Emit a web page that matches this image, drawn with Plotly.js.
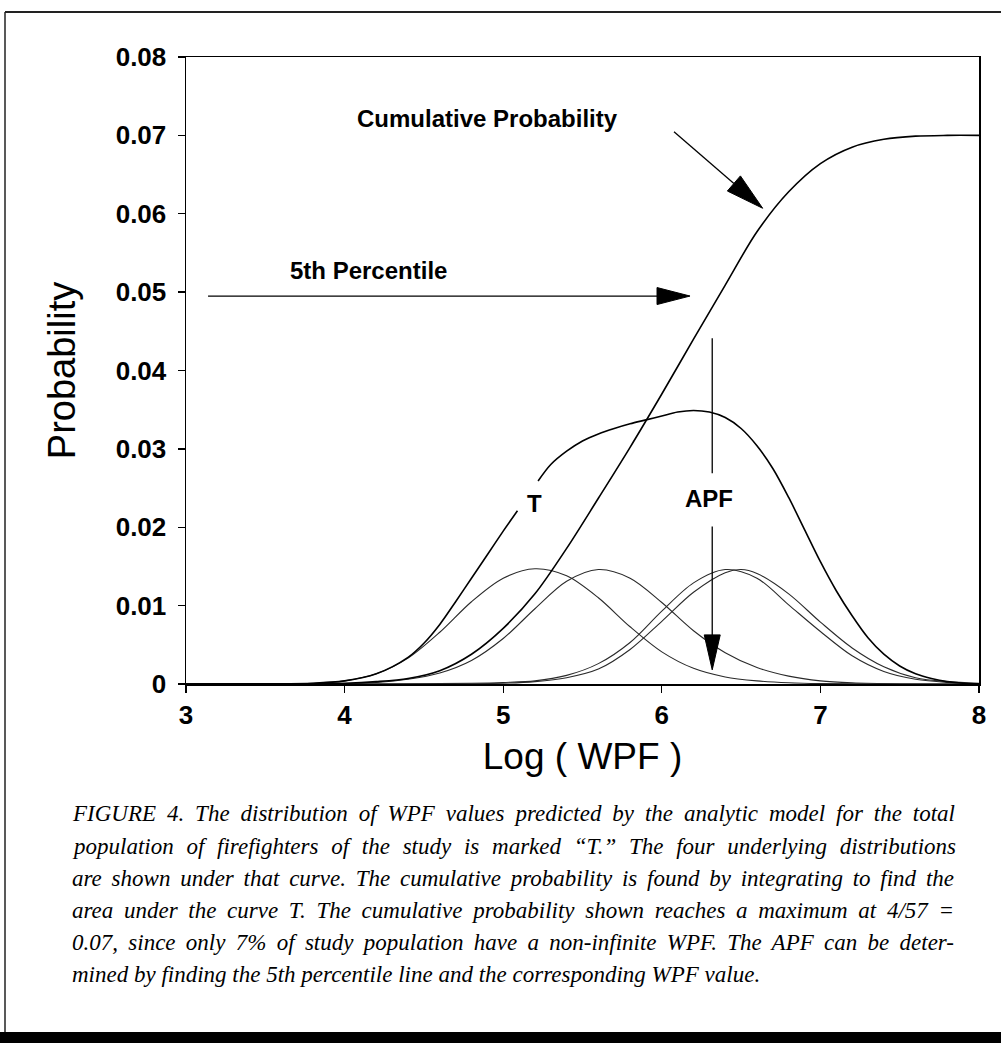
<!DOCTYPE html>
<html>
<head>
<meta charset="utf-8">
<script src="https://cdn.plot.ly/plotly-3.0.1.min.js"></script>
<style>
html,body{margin:0;padding:0;background:#fff;}
#chart{width:1001px;height:1043px;}
</style>
</head>
<body>
<div id="chart"></div>
<script>
// ---------- data ----------
const xTicks = [3, 4, 5, 6, 7, 8];
const yTicks = [0, 0.01, 0.02, 0.03, 0.04, 0.05, 0.06, 0.07, 0.08];
const yTickText = ['0', '0.01', '0.02', '0.03', '0.04', '0.05', '0.06', '0.07', '0.08'];

// four underlying distributions
const g1X = [3.0, 3.5, 3.8, 4.0, 4.2, 4.4, 4.6, 4.8, 5.0, 5.2, 5.4, 5.6, 5.8, 6.0, 6.2, 6.4, 6.6, 6.8, 7.0, 7.5, 8.0];
const g1Y = [0, 0.00002, 0.0001, 0.0004, 0.0013, 0.0033, 0.0066, 0.0105, 0.0135, 0.0147, 0.0138, 0.0110, 0.0073, 0.0041, 0.0020, 0.0009, 0.0004, 0.00015, 0.00005, 0, 0];

const g2X = [3.0, 3.5, 4.0, 4.2, 4.4, 4.6, 4.8, 5.0, 5.2, 5.4, 5.6, 5.8, 6.0, 6.2, 6.4, 6.6, 6.8, 7.0, 7.2, 7.5, 8.0];
const g2Y = [0, 0, 0.00005, 0.0002, 0.0006, 0.0014, 0.0030, 0.0058, 0.0096, 0.0131, 0.0146, 0.0135, 0.0104, 0.0068, 0.0040, 0.0021, 0.0010, 0.0004, 0.00015, 0.00003, 0];

const g3X = [3.0, 4.0, 4.5, 4.8, 5.0, 5.2, 5.4, 5.6, 5.8, 6.0, 6.2, 6.4, 6.6, 6.8, 7.0, 7.2, 7.4, 7.6, 7.8, 8.0];
const g3Y = [0, 0, 0.00003, 0.0001, 0.0002, 0.0004, 0.0011, 0.0026, 0.0053, 0.0093, 0.0129, 0.0146, 0.0135, 0.0101, 0.0067, 0.0036, 0.0016, 0.0006, 0.0002, 0.00005];

const g4X = [3.0, 4.0, 4.5, 5.0, 5.2, 5.4, 5.6, 5.8, 6.0, 6.2, 6.4, 6.5, 6.6, 6.8, 7.0, 7.2, 7.4, 7.6, 7.8, 8.0];
const g4Y = [0, 0, 0.00002, 0.0001, 0.0003, 0.0008, 0.0019, 0.0044, 0.0080, 0.0117, 0.0142, 0.0146, 0.0141, 0.0115, 0.0079, 0.0046, 0.0022, 0.0008, 0.0003, 0.0001];

// total distribution "T" (gap where the label sits)
const tX = [3.0, 3.5, 3.8, 4.0, 4.2, 4.4, 4.5, 4.6, 4.7, 4.8, 4.9, 5.0, 5.09, 5.15, 5.22, 5.3, 5.4, 5.5, 5.6, 5.7, 5.8, 5.9, 6.0, 6.1, 6.2, 6.3, 6.4, 6.5, 6.6, 6.7, 6.8, 6.9, 7.0, 7.1, 7.2, 7.3, 7.4, 7.5, 7.6, 7.7, 7.8, 7.9, 8.0];
const tY = [0, 0.00003, 0.0001, 0.0004, 0.0013, 0.0034, 0.0052, 0.0076, 0.0105, 0.0135, 0.0165, 0.0195, 0.0221, null, 0.0259, 0.0280, 0.0297, 0.0310, 0.0319, 0.0326, 0.0332, 0.0337, 0.0342, 0.0347, 0.0349, 0.0347, 0.0340, 0.0326, 0.0304, 0.0275, 0.0238, 0.0197, 0.0156, 0.0119, 0.0087, 0.0059, 0.0038, 0.0023, 0.0013, 0.0007, 0.0003, 0.0001, 0.00003];

// cumulative probability
const cumX = [3.0, 3.5, 4.0, 4.2, 4.4, 4.6, 4.8, 5.0, 5.2, 5.4, 5.6, 5.8, 6.0, 6.2, 6.4, 6.6, 6.8, 7.0, 7.2, 7.4, 7.6, 7.8, 8.0];
const cumY = [0, 0.00001, 0.0001, 0.0003, 0.0007, 0.0017, 0.0038, 0.0071, 0.0115, 0.0173, 0.0237, 0.0302, 0.0370, 0.0440, 0.0509, 0.0577, 0.0628, 0.0664, 0.0685, 0.0695, 0.0699, 0.0700, 0.0700];

// text labels inside the plot
const labelText = ['Cumulative Probability', '5th Percentile', 'T', 'APF'];
const labelX = [4.066, 3.643, 5.20, 6.30];
const labelY = [0.0722, 0.0527, 0.0230, 0.0237];

// arrows: [tailX, tailY, tipX, tipY]
const arrowCum = [6.077, 0.07045, 6.636, 0.0607];
const arrowPct = [3.139, 0.0495, 6.178, 0.0495];
const apfTopLine = [6.318, 0.0441, 6.318, 0.0269];
const arrowApf = [6.318, 0.0201, 6.318, 0.0018];

const captionLines = [
  'FIGURE 4. The distribution of WPF values predicted by the analytic model for the total',
  'population of firefighters of the study is marked \u201cT.\u201d The four underlying distributions',
  'are shown under that curve. The cumulative probability is found by integrating to find the',
  'area under the curve T. The cumulative probability shown reaches a maximum at 4/57 =',
  '0.07, since only 7% of study population have a non-infinite WPF. The APF can be deter-',
  'mined by finding the 5th percentile line and the corresponding WPF value.'
];

// ---------- geometry ----------
const W = 1001, H = 1043;
const PL = 186, PR = 979, PT = 57, PB = 684;
const kx = (8 - 3) / (PR - PL);
const ky = 0.08 / (PB - PT);
const pxX = px => (px - PL) / (PR - PL);
const pxY = py => (PB - py) / (PB - PT);

function arrowShapes(a, headLen, headW, lw) {
  const [x0, y0, x1, y1] = a;
  const dxp = (x1 - x0) / kx, dyp = (y1 - y0) / ky;
  const len = Math.hypot(dxp, dyp);
  const ux = dxp / len, uy = dyp / len;
  const bx = x1 - ux * headLen * kx, by = y1 - uy * headLen * ky;
  const nx = -uy, ny = ux;
  const c1x = bx + nx * headW / 2 * kx, c1y = by + ny * headW / 2 * ky;
  const c2x = bx - nx * headW / 2 * kx, c2y = by - ny * headW / 2 * ky;
  return [
    {type: 'line', xref: 'x', yref: 'y', x0: x0, y0: y0, x1: bx, y1: by, line: {color: '#000', width: lw}},
    {type: 'path', xref: 'x', yref: 'y', path: `M${x1},${y1} L${c1x},${c1y} L${c2x},${c2y} Z`,
     fillcolor: '#000', line: {color: '#000', width: 1}}
  ];
}

const thin = {color: '#2a2a2a', width: 1.1, shape: 'spline', smoothing: 0.9};
const bold = {color: '#000', width: 1.6, shape: 'spline', smoothing: 0.9};

const traces = [
  {x: g1X, y: g1Y, mode: 'lines', line: thin, name: 'G1'},
  {x: g2X, y: g2Y, mode: 'lines', line: thin, name: 'G2'},
  {x: g3X, y: g3Y, mode: 'lines', line: thin, name: 'G3'},
  {x: g4X, y: g4Y, mode: 'lines', line: thin, name: 'G4'},
  {x: tX, y: tY, mode: 'lines', line: bold, connectgaps: false, name: 'T'},
  {x: cumX, y: cumY, mode: 'lines', line: bold, name: 'Cumulative'}
];

const sans = 'Liberation Sans, Arial, Helvetica, sans-serif';
const serif = 'Liberation Serif, Times New Roman, serif';

const annotations = labelText.map((t, i) => ({
  text: t, x: labelX[i], y: labelY[i], xref: 'x', yref: 'y',
  xanchor: i < 2 ? 'left' : 'center', yanchor: 'middle', showarrow: false,
  font: {family: sans, size: 24, color: '#000', weight: 700}
}));

const captionY = [813, 846, 878, 910, 942, 974];
captionLines.forEach((t, i) => {
  annotations.push({
    text: t, x: pxX(70), y: pxY(captionY[i]), xref: 'paper', yref: 'paper',
    xanchor: 'left', yanchor: 'middle', align: 'left', showarrow: false,
    font: {family: serif, size: 23, color: '#000', style: 'italic'}
  });
});

const shapes = [].concat(
  arrowShapes(arrowCum, 38, 20, 1.3),
  arrowShapes(arrowPct, 33, 17, 1.3),
  [{type: 'line', xref: 'x', yref: 'y', x0: apfTopLine[0], y0: apfTopLine[1], x1: apfTopLine[2], y1: apfTopLine[3], line: {color: '#000', width: 1.3}}],
  arrowShapes(arrowApf, 35, 16, 1.3),
  [
    {type: 'line', xref: 'paper', yref: 'paper', x0: pxX(5), x1: pxX(1001), y0: pxY(12), y1: pxY(12), line: {color: '#222', width: 2}},
    {type: 'line', xref: 'paper', yref: 'paper', x0: pxX(5), x1: pxX(5), y0: pxY(12), y1: pxY(1032), line: {color: '#222', width: 1.5}},
    {type: 'rect', xref: 'paper', yref: 'paper', x0: pxX(0), x1: pxX(1001), y0: pxY(1032), y1: pxY(1043), fillcolor: '#000', line: {width: 0}}
  ]
);

const layout = {
  width: W, height: H,
  margin: {l: PL, r: W - PR, t: PT, b: H - PB},
  paper_bgcolor: '#fff', plot_bgcolor: '#fff',
  showlegend: false,
  xaxis: {
    range: [3, 8], tickvals: xTicks, ticktext: xTicks.map(String),
    ticks: 'outside', ticklen: 7, tickwidth: 1.3, tickcolor: '#000',
    showline: true, linecolor: '#000', linewidth: 1.5, mirror: true,
    showgrid: false, zeroline: false, automargin: false,
    tickfont: {family: sans, size: 26, color: '#000', weight: 700},
    title: {text: 'Log ( WPF )', font: {family: sans, size: 37, color: '#000'}, standoff: 14}
  },
  yaxis: {
    range: [0, 0.08], tickvals: yTicks, ticktext: yTickText,
    ticks: 'outside', ticklen: 7, tickwidth: 1.3, tickcolor: '#000',
    showline: true, linecolor: '#000', linewidth: 1.5, mirror: true,
    showgrid: false, zeroline: false, automargin: false,
    ticklabelstandoff: 6,
    tickfont: {family: sans, size: 26, color: '#000', weight: 700},
    title: {text: 'Probability', font: {family: sans, size: 38, color: '#000'}, standoff: 28}
  },
  annotations: annotations,
  shapes: shapes
};

Plotly.newPlot('chart', traces, layout, {staticPlot: true, displayModeBar: false}).then(() => {
  // justify caption lines 1-5 to the same right edge
  const target = 955 - 73;
  document.querySelectorAll('.annotation-text').forEach(el => {
    const txt = el.textContent;
    const idx = captionLines.indexOf(txt);
    if (idx >= 0 && idx < captionLines.length - 1) {
      const natural = el.getComputedTextLength();
      const spaces = (txt.match(/ /g) || []).length;
      if (spaces > 0) el.style.wordSpacing = ((target - natural) / spaces) + 'px';
    }
  });
});
</script>
</body>
</html>
